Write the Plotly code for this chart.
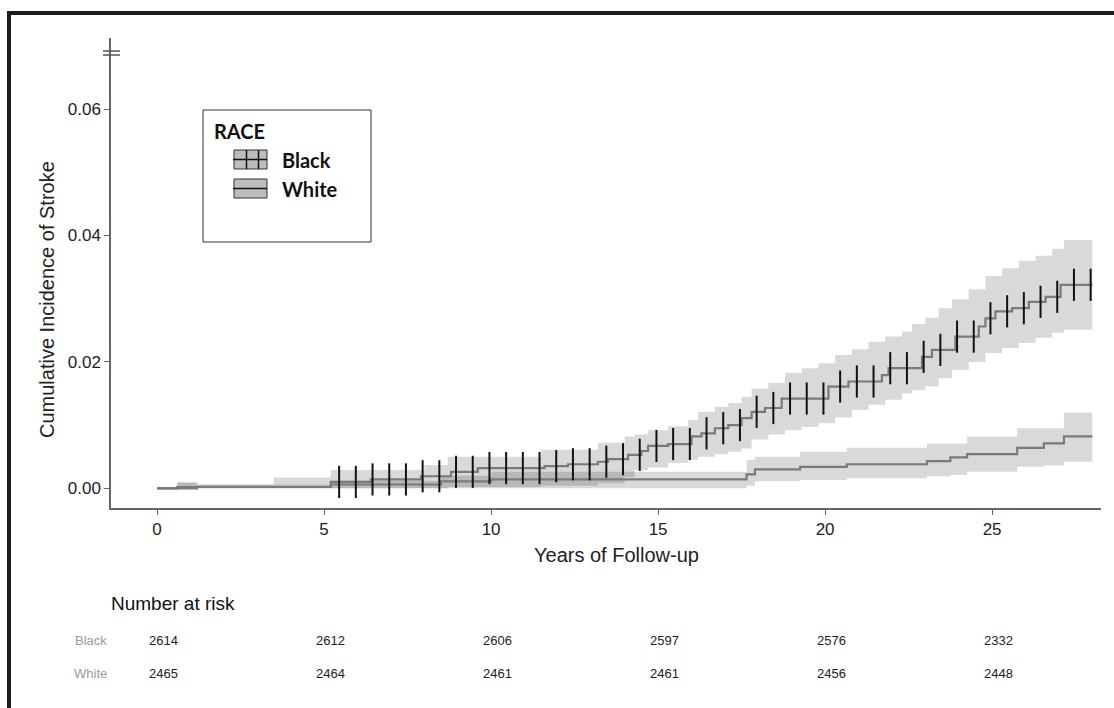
import plotly.graph_objects as go
import numpy as np

# ---------------- data ----------------
black_time = [0, 1.2, 5.2, 6.4, 7.9, 8.8, 9.6, 11.6, 12.3, 13.2, 13.5, 14.1, 14.5, 14.7, 15.3, 16.0,
              16.3, 16.7, 17.1, 17.5, 17.8, 18.2, 18.7, 20.1, 20.7, 21.7, 21.9, 22.9, 23.2, 23.9,
              24.6, 24.8, 25.1, 25.6, 26.1, 26.6, 27.05, 28.0]
black_cif = [0, 0.0002, 0.001, 0.0014, 0.0019, 0.0026, 0.0032, 0.0035, 0.0038, 0.0042, 0.0046, 0.0053,
             0.0059, 0.0067, 0.007, 0.0082, 0.0087, 0.0095, 0.01, 0.0111, 0.0121, 0.0127, 0.0142,
             0.0161, 0.0169, 0.0179, 0.019, 0.0208, 0.0219, 0.024, 0.0256, 0.0269, 0.028, 0.0285,
             0.0295, 0.0303, 0.0322, 0.0322]

black_ci_time = [0, 0.6, 1.2, 3.5, 5.2, 8.0, 8.7, 11.5, 13.2, 14.0, 14.3, 14.7, 15.3, 15.9, 16.2,
                 16.7, 17.1, 17.5, 17.8, 18.3, 18.8, 19.3, 19.8, 20.3, 20.8, 21.3, 21.8, 22.3, 22.6,
                 23.0, 23.4, 23.8, 24.3, 24.8, 25.3, 25.8, 26.3, 26.8, 27.15, 28.0]
black_ci_lower = [0, 0, 0, 0, 0, 0, 0.0002, 0.0004, 0.0008, 0.0018, 0.0029, 0.0033, 0.004, 0.0045,
                  0.005, 0.0054, 0.0058, 0.0063, 0.0077, 0.0085, 0.0092, 0.0097, 0.0103, 0.0112,
                  0.0124, 0.0132, 0.014, 0.015, 0.0155, 0.0161, 0.0174, 0.0187, 0.02, 0.0214, 0.0222,
                  0.023, 0.0238, 0.0246, 0.0251, 0.0251]
black_ci_upper = [0, 0.0009, 0.0006, 0.0017, 0.0029, 0.0037, 0.005, 0.0061, 0.0072, 0.0082, 0.0085,
                  0.0092, 0.0098, 0.0108, 0.0121, 0.0129, 0.0135, 0.0145, 0.0158, 0.0167, 0.0183,
                  0.019, 0.0198, 0.0211, 0.022, 0.0232, 0.024, 0.0248, 0.026, 0.027, 0.0285, 0.0299,
                  0.0315, 0.0336, 0.0348, 0.036, 0.0368, 0.0379, 0.0393, 0.0393]

white_time = [0, 0.6, 5.2, 8.5, 10.0, 17.65, 17.9, 19.25, 20.65, 23.05, 23.75, 24.25, 25.75, 26.55,
              27.15, 28.0]
white_cif = [0, 0.0002, 0.0006, 0.0011, 0.0014, 0.0022, 0.003, 0.0034, 0.0038, 0.0043, 0.0049, 0.0054,
             0.0064, 0.0071, 0.0082, 0.0082]

white_ci_time = [0, 0.6, 1.2, 5.2, 8.5, 10.0, 17.65, 17.9, 19.25, 20.65, 23.05, 23.75, 24.25, 25.75,
                 26.55, 27.15, 28.0]
white_ci_lower = [0, 0, 0, 0, 0, 0, 0.0004, 0.0011, 0.0013, 0.0016, 0.0019, 0.0021, 0.0026, 0.0034,
                  0.0036, 0.0042, 0.0042]
white_ci_upper = [0, 0.0009, 0.0006, 0.0012, 0.002, 0.0026, 0.0045, 0.005, 0.0058, 0.0064, 0.0071,
                  0.0071, 0.0082, 0.0095, 0.0095, 0.012, 0.012]

black_censor_time = [5.45, 5.95, 6.45, 6.95, 7.45, 7.95, 8.45, 8.95, 9.45, 9.95, 10.45, 10.95, 11.45,
                     11.95, 12.45, 12.95, 13.45, 13.95, 14.45, 14.95, 15.45, 15.95, 16.45, 16.95,
                     17.45, 17.95, 18.45, 18.95, 19.45, 19.95, 20.45, 20.95, 21.45, 21.95, 22.45,
                     22.95, 23.45, 23.95, 24.45, 24.95, 25.45, 25.95, 26.45, 26.95, 27.45, 27.95]

risk_times = [0, 5, 10, 15, 20, 25]
risk_black = [2614, 2612, 2606, 2597, 2576, 2332]
risk_white = [2465, 2464, 2461, 2461, 2456, 2448]

x_ticks = [0, 5, 10, 15, 20, 25]
y_ticks = [0, 0.02, 0.04, 0.06]
y_tick_labels = ["0.00", "0.02", "0.04", "0.06"]

# ---------------- layout helpers ----------------
W, H = 1114, 708
L, R, T, B = 111, 1101, 38, 508


def px(x):
    return (x - L) / (R - L)


def py(y):
    return (B - y) / (B - T)


FONT = "Liberation Sans, Arial, sans-serif"
LEG_FONT = "Lato, Open Sans, sans-serif"
BAND = "rgba(0,0,0,0.15)"
LINE = "#7a7a7a"

fig = go.Figure()

# confidence bands
for t, lo, up in [(black_ci_time, black_ci_lower, black_ci_upper),
                  (white_ci_time, white_ci_lower, white_ci_upper)]:
    fig.add_trace(go.Scatter(x=t, y=lo, mode="lines", line=dict(width=0, shape="hv"),
                             showlegend=False, hoverinfo="skip"))
    fig.add_trace(go.Scatter(x=t, y=up, mode="lines", line=dict(width=0, shape="hv"),
                             fill="tonexty", fillcolor=BAND, showlegend=False, hoverinfo="skip"))

# step curves
fig.add_trace(go.Scatter(x=white_time, y=white_cif, mode="lines",
                         line=dict(color=LINE, width=2.2, shape="hv"), name="White", showlegend=False))
fig.add_trace(go.Scatter(x=black_time, y=black_cif, mode="lines",
                         line=dict(color=LINE, width=2.2, shape="hv"), name="Black", showlegend=False))

# censor marks on the Black curve
bt = np.array(black_time)
bv = np.array(black_cif)
idx = np.searchsorted(bt, np.array(black_censor_time), side="right") - 1
censor_y = bv[idx]
fig.add_trace(go.Scatter(x=black_censor_time, y=censor_y, mode="markers",
                         marker=dict(symbol="line-ns", size=23, line=dict(width=2, color="#111")),
                         showlegend=False, hoverinfo="skip"))

shapes = []
# outer frame (top and left edges visible)
shapes.append(dict(type="line", xref="paper", yref="paper", x0=px(7), x1=px(W + 10),
                   y0=py(13), y1=py(13), line=dict(color="#1c1c1c", width=4)))
shapes.append(dict(type="line", xref="paper", yref="paper", x0=px(9), x1=px(9),
                   y0=py(11), y1=py(H + 10), line=dict(color="#1c1c1c", width=4)))
# axis break mark
for yy in (51, 55):
    shapes.append(dict(type="line", xref="paper", yref="paper", x0=px(103), x1=px(120),
                       y0=py(yy), y1=py(yy), line=dict(color="#555", width=1.5)))
# legend box
shapes.append(dict(type="rect", xref="paper", yref="paper", x0=px(203), x1=px(371),
                   y0=py(242), y1=py(110), line=dict(color="#333", width=1), fillcolor="white"))
# legend keys
for (ytop, ybot) in [(150, 169), (179, 198)]:
    shapes.append(dict(type="rect", xref="paper", yref="paper", x0=px(234), x1=px(267),
                       y0=py(ybot), y1=py(ytop), line=dict(color="#333", width=1),
                       fillcolor="#bdbdbd"))
    ym = (ytop + ybot) / 2
    shapes.append(dict(type="line", xref="paper", yref="paper", x0=px(233), x1=px(267),
                       y0=py(ym), y1=py(ym), line=dict(color="#111", width=1.5)))
for xx in (246.5, 258.5):
    shapes.append(dict(type="line", xref="paper", yref="paper", x0=px(xx), x1=px(xx),
                       y0=py(169), y1=py(150), line=dict(color="#111", width=1.5)))

annotations = []
# legend text
annotations.append(dict(xref="paper", yref="paper", x=px(212), y=py(131), text="<b>RACE</b>",
                        showarrow=False, xanchor="left", yanchor="middle",
                        font=dict(family=LEG_FONT, size=20, color="#111")))
for label, yy in [("Black", 160), ("White", 189)]:
    annotations.append(dict(xref="paper", yref="paper", x=px(280), y=py(yy), text="<b>%s</b>" % label,
                            showarrow=False, xanchor="left", yanchor="middle",
                            font=dict(family=LEG_FONT, size=20, color="#111")))
# axis titles
annotations.append(dict(xref="paper", yref="paper", x=px(47), y=py(300),
                        text="Cumulative Incidence of Stroke", textangle=-90, showarrow=False,
                        xanchor="center", yanchor="middle", font=dict(family=FONT, size=20, color="#222")))
annotations.append(dict(xref="paper", yref="paper", x=px(616), y=py(555),
                        text="Years of Follow-up", showarrow=False,
                        xanchor="center", yanchor="middle", font=dict(family=FONT, size=20, color="#222")))
# number at risk table
annotations.append(dict(xref="paper", yref="paper", x=px(109), y=py(603), text="Number at risk",
                        showarrow=False, xanchor="left", yanchor="middle",
                        font=dict(family=FONT, size=19, color="#111")))
for label, yy, vals in [("Black", 640, risk_black), ("White", 673, risk_white)]:
    annotations.append(dict(xref="paper", yref="paper", x=px(109), y=py(yy), text=label,
                            showarrow=False, xanchor="right", yanchor="middle",
                            font=dict(family=FONT, size=13, color="#9a9a9a")))
    for t, v in zip(risk_times, vals):
        annotations.append(dict(xref="x", yref="paper", x=t, xshift=6, y=py(yy), text=str(v),
                                showarrow=False, xanchor="center", yanchor="middle",
                                font=dict(family=FONT, size=13, color="#222")))

fig.update_layout(
    width=W, height=H,
    margin=dict(l=L, r=W - R, t=T, b=H - B, pad=0),
    paper_bgcolor="white", plot_bgcolor="white",
    showlegend=False,
    shapes=shapes, annotations=annotations,
    xaxis=dict(range=[-1.38, 28.26], tickvals=x_ticks, showgrid=False, zeroline=False,
               showline=True, linecolor="#666", linewidth=1.5, ticks="outside", ticklen=5,
               tickcolor="#666", tickfont=dict(family=FONT, size=17, color="#222")),
    yaxis=dict(range=[-0.00312, 0.07125], tickvals=y_ticks, ticktext=y_tick_labels,
               showgrid=False, zeroline=False, showline=True, linecolor="#666", linewidth=1.5,
               ticks="outside", ticklen=5, tickcolor="#666",
               tickfont=dict(family=FONT, size=17, color="#222")),
)

fig.write_html("out.html", config={"displayModeBar": False},
               post_script="document.body.style.margin='0';")
